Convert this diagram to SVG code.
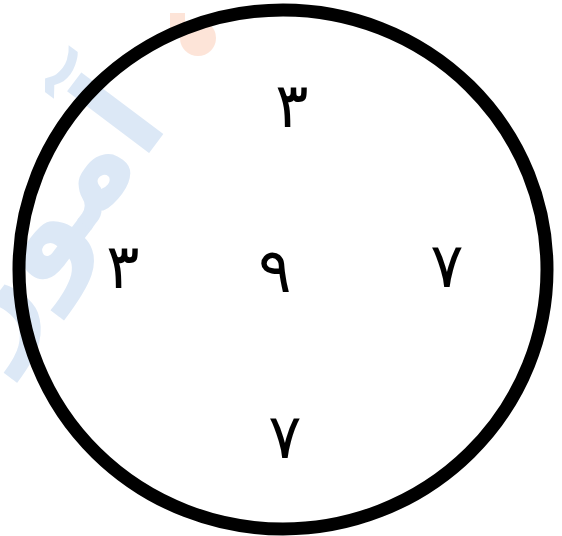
<svg xmlns="http://www.w3.org/2000/svg" width="562" height="536" viewBox="0 0 562 536">
<style>
.d{font-family:"DejaVu Sans",sans-serif;font-size:62px;fill:#000;text-anchor:middle}
.wm{font-family:"DejaVu Sans",sans-serif;font-weight:bold;font-size:135px;fill:#dce8f6}
</style>
<rect width="562" height="536" fill="#fff"/>
<g id="watermark">
<text class="wm" text-anchor="end" transform="translate(170,125) rotate(-53)">آموز</text>
<g fill="#fde4d8"><circle cx="198" cy="38" r="18"/><rect x="170" y="13" width="15" height="20"/></g>
</g>
<g id="circle"><ellipse cx="283" cy="269.5" rx="264" ry="259.5" fill="none" stroke="#000" stroke-width="13"/></g>
<g id="n-top"><text class="d" x="292" y="127">۳</text></g>
<g id="n-left"><text class="d" x="123" y="288">۳</text></g>
<g id="n-center"><text class="d" x="275" y="292">۹</text></g>
<g id="n-right"><text class="d" x="447" y="287">۷</text></g>
<g id="n-bottom"><text class="d" x="285" y="458">۷</text></g>
</svg>
